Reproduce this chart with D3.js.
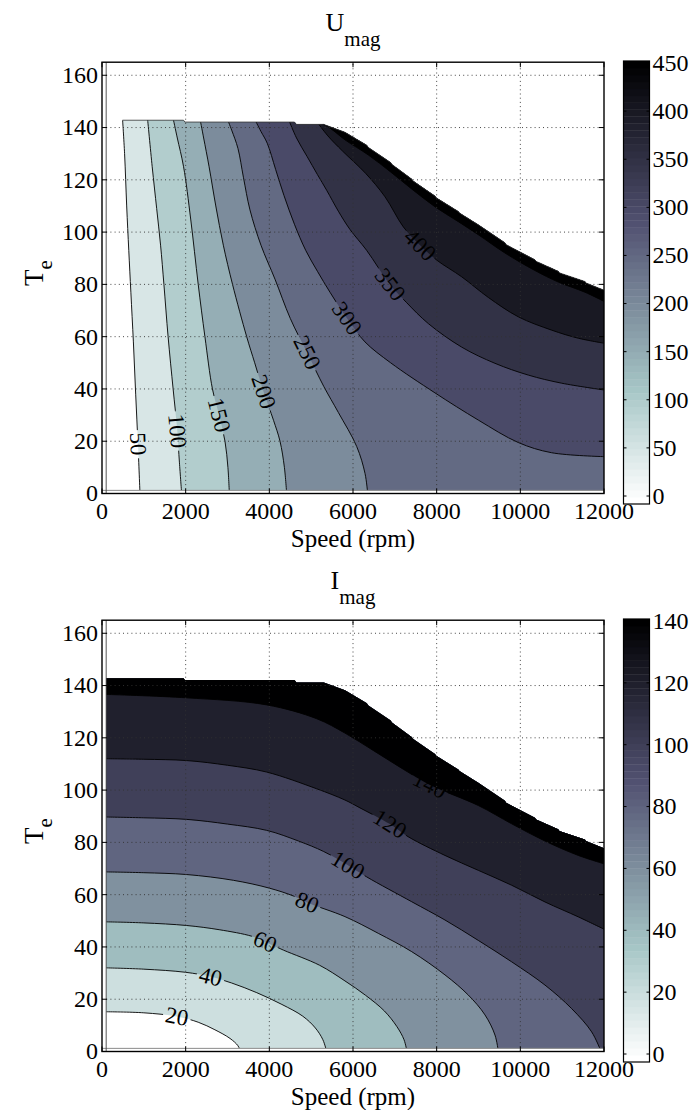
<!DOCTYPE html>
<html>
<head>
<meta charset="utf-8">
<script src="https://cdnjs.cloudflare.com/ajax/libs/d3/7.8.5/d3.min.js"></script>
<style>
  body { margin: 0; background: #fff; }
  svg { display: block; }
  text { font-family: "Liberation Serif", "Times New Roman", Times, serif; fill: #000; }
</style>
</head>
<body>
<svg id="fig" width="694" height="1110"></svg>
<script>
// ---------- axes ----------
const speedTicks = [0, 2000, 4000, 6000, 8000, 10000, 12000];
const torqueTicks = [0, 20, 40, 60, 80, 100, 120, 140, 160];
const speedDomain = [0, 12000];
const torqueDomain = [0, 165];

// ---------- operating region (speed rpm, torque Nm) ----------
const speedRange = [100, 12000];
const torqueFloor = 1.2;
const torqueEnvelope = [
  [100, 142.8], [1950, 142.8], [1980, 142.1], [4600, 142.1], [4650, 141.2], [5300, 141.2],
  [5450, 140.3], [5808, 138.2], [6100, 135.4], [6330, 133.2], [6366, 132.4], [6900, 126.6],
  [6930, 125.9], [7402, 120.3], [7430, 119.6], [7959, 113.8], [7990, 113.1], [8517, 107.9],
  [8545, 107.3], [8995, 102.8], [9632, 95.9], [9660, 95.2], [10349, 89.4], [10380, 88.8],
  [10906, 85.0], [10935, 84.4], [11544, 81.1], [11570, 80.5], [12000, 77.8]
];

// ---------- voltage magnitude contours ----------
const uLevels = [0, 50, 100, 150, 200, 250, 300, 350, 400, 450];
const U_50  = [[490,143.5],[540,130],[590,110],[640,93],[690,77],[750,58],[805,38],[860,19],[908,0]];
const U_100 = [[1088,143.5],[1200,125],[1307,109],[1400,95],[1480,80],[1580,60],[1700,40],[1800,24],[1850,12],[1904,0]];
const U_150 = [[1700,143.5],[1800,136],[1950,125],[2120,105],[2300,80],[2460,60],[2640,40],[2800,30],[2940,20],[3010,10],[3044,0]];
const U_200 = [[2340,143.5],[2430,136],[2560,125],[2720,110],[2900,95],[3120,80],[3458,60],[3650,50],[3860,39],[4100,28],[4255,20],[4360,10],[4414,0]];
const U_250 = [[2990,143.5],[3100,139],[3250,132],[3380,121],[3537,108.5],[3800,95],[4135,82],[4500,67],[4900,54],[5300,41],[5650,31],[6088,18],[6287,7.7],[6351,0]];
const U_300 = [[3640,143.5],[3800,138.5],[3950,134],[4150,124],[4350,114],[4600,103],[4870,93],[5150,85],[5450,77],[5856,67],[6286,58],[6900,50],[7959,38.5],[8995,28.1],[9951,19.5],[10748,15.6],[12000,14.1]];
const U_350 = [[4450,143.5],[4650,136],[4900,129],[5150,122],[5371,116],[5650,108],[5928,101],[6327,93],[6883,80],[7283,73],[7801,65],[8598,56],[9394,49.8],[10191,45.3],[10988,42.2],[12000,39.6]];
const U_400 = [[5100,143],[5400,136.8],[5750,131],[6300,122.5],[6765,113.5],[7203,102],[7603,95],[8000,89.3],[8598,82.9],[9235,75],[9951,67.6],[10748,62.5],[11386,59.4],[12000,57.5]];
const U_450 = [[4800,142.3],[5300,141.1],[5500,139.2],[5808,135.3],[6366,129.5],[6900,123],[7402,116.5],[7959,109.7],[8517,104],[8995,99],[9632,92],[10349,85.3],[10906,80.9],[11544,77],[12000,73.5]];
// contour label spots: level, speed, torque
const uLabelSpots = [[50,860,19],[100,1800,24],[150,2800,30],[200,3860,39],[250,4900,54],[300,5856,67],[350,6883,80],[400,7603,95]];

// ---------- current magnitude contours ----------
const iLevels = [0, 20, 40, 60, 80, 100, 120, 140];
const I_20  = [[100,15.2],[1000,14.8],[1793,13.4],[2300,11.2],[2700,8.3],[3060,5.0],[3250,2.2],[3310,0]];
const I_40  = [[100,32],[1000,31.5],[2000,30.3],[2600,28.6],[3100,26.2],[3700,22.5],[4300,18],[4800,13.5],[5100,9],[5280,4.5],[5370,0]];
const I_60  = [[100,49.6],[1000,49.2],[2024,48.2],[2800,46.6],[3578,44.1],[3897,42],[4335,38.8],[5200,33],[5808,27],[6300,21.5],[6750,15.5],[7050,9.5],[7220,4.5],[7290,0]];
const I_80  = [[100,68.7],[1000,68.4],[2024,67.7],[3139,65.5],[4000,62.5],[4574,59.5],[4900,57],[5808,51.6],[6605,45.2],[7403,38.2],[8199,29.3],[8756,21.6],[9155,14],[9394,6.3],[9474,0]];
const I_100 = [[100,89.7],[1000,89.4],[2024,88.8],[3000,87],[3937,84.6],[4700,80.5],[5300,76.5],[5880,71.3],[6327,66.8],[7403,57.3],[8199,50.3],[8995,42.5],[9793,34.3],[10590,25.4],[11227,16.4],[11705,7.5],[11930,0]];
const I_120 = [[100,112],[1000,111.8],[2024,111.3],[3000,109.5],[3937,106.9],[5132,100.5],[5808,96.2],[6167,93.2],[6884,87],[7315,82.2],[8199,75],[8995,69.3],[9793,63.6],[10590,57.2],[11386,51.5],[12000,46.8]];
const I_140 = [[100,136.6],[2024,135.3],[3937,132.6],[5132,127.3],[5808,121.8],[6500,115],[7200,108],[7840,102],[8995,94.1],[9793,87.1],[10590,80.5],[11386,75],[12000,71.8]];
const iLabelSpots = [[20,1793,13.4],[40,2600,28.6],[60,3897,42],[80,4900,57],[100,5880,71.3],[120,6884,87],[140,7840,102]];

// ---------- colour map: MATLAB "bone", reversed (white = low) ----------
function boneFlipped(i) {            // i = 1..64, 1 is white
  const j = 65 - i;
  const gray = (j - 1) / 63;
  const clamp = v => Math.max(0, Math.min(1, v));
  const hr = clamp(j / 24), hg = clamp((j - 24) / 24), hb = clamp((j - 48) / 16);
  const c = v => Math.round(255 * v);
  return d3.rgb(c((7 * gray + hb) / 8), c((7 * gray + hg) / 8), c((7 * gray + hr) / 8)).formatHex();
}

const svg = d3.select('#fig');
const defs = svg.append('defs');

function drawPanel(p) {
  const oy = p.offset;
  const x = d3.scaleLinear().domain(speedDomain).range([102, 604]);
  const y = d3.scaleLinear().domain(torqueDomain).range([493.5 + oy, 62.2 + oy]);
  const [x0, x1] = x.range();
  const yBot = y.range()[0], yTop = y.range()[1];
  const color = v => boneFlipped(Math.min(64, Math.floor(v / p.cmax * 64) + 1));
  const smooth = d3.line().x(d => x(d[0])).y(d => y(d[1])).curve(d3.curveCatmullRom.alpha(0.5));
  const straight = d3.line().x(d => x(d[0])).y(d => y(d[1]));

  // operating region outline used as clip
  const region = [[speedRange[0], torqueFloor], ...torqueEnvelope, [speedRange[1], torqueFloor]];
  const clipId = p.id + '-clip';
  defs.append('clipPath').attr('id', clipId).append('path').attr('d', straight(region) + 'Z');

  const g = svg.append('g');
  const fills = g.append('g').attr('clip-path', `url(#${clipId})`);
  fills.append('path').attr('d', straight(region) + 'Z').attr('fill', color(p.levels[0]));

  function regionAbove(pts) {
    const first = pts[0], last = pts[pts.length - 1];
    const xl = x0 - 40, xr = x1 + 40, yt = yTop - 40, yb = yBot + 40;
    const head = first[0] <= speedRange[0] ? [[xl, yt], [xl, y(first[1])]] : [[x(first[0]), yt]];
    const tail = last[1] <= torqueFloor ? [[x(last[0]), yb], [xr, yb], [xr, yt]] : [[xr, y(last[1])], [xr, yt]];
    const seg = q => q.map(v => v.join(',')).join('L');
    return 'M' + seg(head) + 'L' + smooth(pts).slice(1) + 'L' + seg(tail) + 'Z';
  }
  p.lines.forEach(([lvl, pts]) => {
    fills.append('path').attr('d', regionAbove(pts)).attr('fill', color(lvl));
  });

  // label gaps in the contour lines
  const maskId = p.id + '-mask';
  const mask = defs.append('mask').attr('id', maskId).attr('maskUnits', 'userSpaceOnUse')
    .attr('x', 0).attr('y', 0).attr('width', 694).attr('height', 1110);
  mask.append('rect').attr('width', 694).attr('height', 1110).attr('fill', '#fff');

  const lineG = g.append('g').attr('clip-path', `url(#${clipId})`).append('g').attr('mask', `url(#${maskId})`);
  const paths = {};
  p.lines.forEach(([lvl, pts]) => {
    paths[lvl] = lineG.append('path').attr('d', smooth(pts)).attr('fill', 'none')
      .attr('stroke', '#000').attr('stroke-width', 0.9).node();
  });

  // thin outline along the top of the filled region
  const startS = p.lines[0][1][0][0];
  if (startS > speedRange[0]) {
    const env = torqueEnvelope;
    const k = env.findIndex(q => q[0] > startS);
    const a = env[k - 1], b = env[k];
    const tStart = a[1] + (b[1] - a[1]) * (startS - a[0]) / (b[0] - a[0]);
    const outline = [[startS, tStart], ...env.slice(k)];
    g.append('path').attr('d', straight(outline)).attr('fill', 'none')
      .attr('stroke', '#333').attr('stroke-width', 0.8);
  }

  // contour labels
  const labelG = g.append('g');
  p.labels.forEach(([lvl, s, t]) => {
    const node = paths[lvl];
    const total = node.getTotalLength();
    const tx = x(s), ty = y(t);
    let best = 0, bestD = Infinity;
    for (let l = 0; l <= total; l += 0.5) {
      const q = node.getPointAtLength(l);
      const dd = (q.x - tx) ** 2 + (q.y - ty) ** 2;
      if (dd < bestD) { bestD = dd; best = l; }
    }
    const c = node.getPointAtLength(best);
    const qa = node.getPointAtLength(Math.max(0, best - 4));
    const qb = node.getPointAtLength(Math.min(total, best + 4));
    let ang = Math.atan2(qb.y - qa.y, qb.x - qa.x) * 180 / Math.PI;
    if (ang > 90) ang -= 180;
    if (ang < -90) ang += 180;
    const tr = `translate(${c.x},${c.y}) rotate(${ang})`;
    const txt = labelG.append('text').attr('transform', tr).attr('text-anchor', 'middle')
      .attr('dy', '0.33em').style('font-size', '23px').text(lvl);
    const w = txt.node().getComputedTextLength() + 5;
    const h = 17;
    mask.append('rect').attr('transform', tr).attr('x', -w / 2).attr('y', -h / 2)
      .attr('width', w).attr('height', h).attr('fill', '#000');
  });

  // dotted grid
  const grid = g.append('g').attr('stroke', '#333').attr('stroke-width', 0.9)
    .attr('stroke-dasharray', '1 3.2').attr('fill', 'none');
  speedTicks.slice(1, -1).forEach(t => {
    grid.append('line').attr('x1', x(t)).attr('x2', x(t)).attr('y1', yBot).attr('y2', yTop);
  });
  torqueTicks.slice(1).forEach(t => {
    grid.append('line').attr('x1', x0).attr('x2', x1).attr('y1', y(t)).attr('y2', y(t));
  });

  // axes box, inner edge lines, ticks
  g.append('line').attr('x1', x0).attr('x2', x1).attr('y1', y(torqueFloor)).attr('y2', y(torqueFloor))
    .attr('stroke', '#8a8a8a').attr('stroke-width', 1);
  g.append('line').attr('x1', x(speedRange[0])).attr('x2', x(speedRange[0])).attr('y1', yTop).attr('y2', yBot)
    .attr('stroke', '#444').attr('stroke-width', 0.9);
  g.append('rect').attr('x', x0).attr('y', yTop).attr('width', x1 - x0).attr('height', yBot - yTop)
    .attr('fill', 'none').attr('stroke', '#000').attr('stroke-width', 1.4);
  const ticks = g.append('g').attr('stroke', '#000').attr('stroke-width', 1);
  speedTicks.forEach(t => {
    ticks.append('line').attr('x1', x(t)).attr('x2', x(t)).attr('y1', yBot).attr('y2', yBot - 5);
    ticks.append('line').attr('x1', x(t)).attr('x2', x(t)).attr('y1', yTop).attr('y2', yTop + 5);
  });
  torqueTicks.forEach(t => {
    ticks.append('line').attr('x1', x0).attr('x2', x0 + 5).attr('y1', y(t)).attr('y2', y(t));
    ticks.append('line').attr('x1', x1).attr('x2', x1 - 5).attr('y1', y(t)).attr('y2', y(t));
  });
  speedTicks.forEach(t => {
    g.append('text').attr('x', x(t)).attr('y', yBot + 25.5).attr('text-anchor', 'middle')
      .style('font-size', '24px').text(String(t));
  });
  torqueTicks.forEach(t => {
    g.append('text').attr('x', x0 - 4).attr('y', y(t)).attr('dy', '0.33em').attr('text-anchor', 'end')
      .style('font-size', '24px').text(String(t));
  });

  // titles
  const xc = (x0 + x1) / 2;
  const title = g.append('text').attr('x', xc).attr('y', yTop - 31).attr('text-anchor', 'middle')
    .style('font-size', '26px').text(p.title);
  title.append('tspan').attr('dy', 15).style('font-size', '21px').text(p.sub);
  g.append('text').attr('x', xc).attr('y', yBot + 53).attr('text-anchor', 'middle')
    .style('font-size', '25px').text('Speed (rpm)');
  const yl = g.append('text').attr('transform', `translate(43,${273 + oy}) rotate(-90)`)
    .attr('text-anchor', 'middle').style('font-size', '27px').text('T');
  yl.append('tspan').attr('dy', 9).style('font-size', '21px').text('e');

  // colour bar
  const cbX = 623.5, cbW = 26, cbTop = 61 + oy, cbBot = 504 + oy;
  const cb = d3.scaleLinear().domain([0, p.cmax]).range([496 + oy, 63 + oy]);
  const stepH = (cbBot - cbTop) / 64;
  const cbG = g.append('g');
  d3.range(1, 65).forEach(i => {
    cbG.append('rect').attr('x', cbX).attr('y', cbBot - i * stepH).attr('width', cbW)
      .attr('height', stepH + 0.4).attr('fill', boneFlipped(i));
  });
  cbG.append('rect').attr('x', cbX).attr('y', cbTop).attr('width', cbW).attr('height', cbBot - cbTop)
    .attr('fill', 'none').attr('stroke', '#000').attr('stroke-width', 1.2);
  p.levels.forEach(v => {
    cbG.append('line').attr('x1', cbX).attr('x2', cbX + 3).attr('y1', cb(v)).attr('y2', cb(v))
      .attr('stroke', '#000').attr('stroke-width', 1);
    cbG.append('line').attr('x1', cbX + cbW).attr('x2', cbX + cbW - 3).attr('y1', cb(v)).attr('y2', cb(v))
      .attr('stroke', '#000').attr('stroke-width', 1);
    cbG.append('text').attr('x', cbX + cbW + 3).attr('y', cb(v)).attr('dy', '0.33em')
      .style('font-size', '24px').text(String(v));
  });
}

drawPanel({
  id: 'umag', offset: 0, cmax: 450, title: 'U', sub: 'mag', levels: uLevels,
  lines: [[50, U_50], [100, U_100], [150, U_150], [200, U_200], [250, U_250], [300, U_300], [350, U_350], [400, U_400], [450, U_450]],
  labels: uLabelSpots
});
drawPanel({
  id: 'imag', offset: 558, cmax: 140, title: 'I', sub: 'mag', levels: iLevels,
  lines: [[20, I_20], [40, I_40], [60, I_60], [80, I_80], [100, I_100], [120, I_120], [140, I_140]],
  labels: iLabelSpots
});
</script>
</body>
</html>
